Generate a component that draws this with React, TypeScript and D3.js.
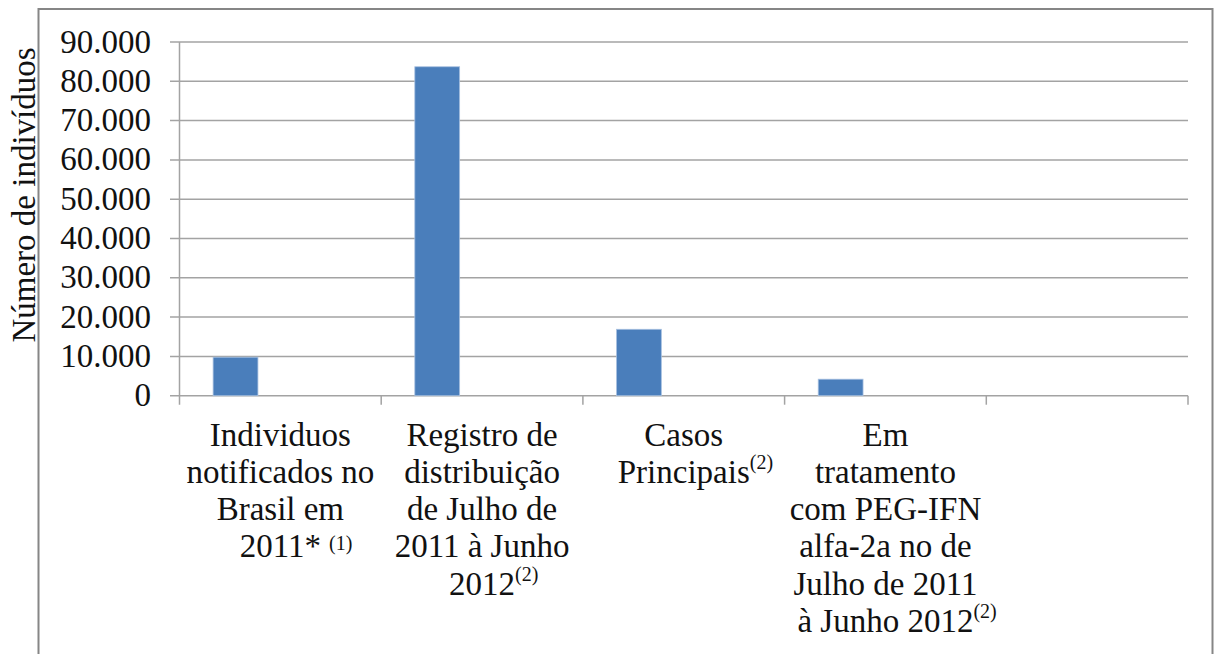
import { useEffect, useRef } from "react";
import * as d3 from "d3";

// Chart data
const categories = [
  "Individuos notificados no Brasil em 2011*",
  "Registro de distribuição de Julho de 2011 à Junho 2012",
  "Casos Principais",
  "Em tratamento com PEG-IFN alfa-2a no de Julho de 2011 à Junho 2012",
  "",
];
const categoryLines = [
  ["Individuos", "notificados no", "Brasil em", "2011*"],
  ["Registro de", "distribuição", "de Julho de", "2011 à Junho", "2012"],
  ["Casos", "Principais"],
  ["Em", "tratamento", "com PEG-IFN", "alfa-2a no de", "Julho de 2011", "à Junho 2012"],
  [],
];
const categoryNotes = [" (1)", "(2)", "(2)", "(2)", ""];
const series = ["Série 1", "Série 2", "Série 3"];
const values = [9800, 83700, 16900, 4200, null];
const yTicks = [0, 10000, 20000, 30000, 40000, 50000, 60000, 70000, 80000, 90000];
const yTitle = "Número de indivíduos";

const WIDTH = 1220;
const HEIGHT = 654;
const FONT = "'Liberation Serif', 'Times New Roman', serif";

export default function App() {
  const ref = useRef<SVGSVGElement>(null);

  useEffect(() => {
    const svg = d3.select(ref.current);
    svg.selectAll("*").remove();

    const PLOT = { left: 179.5, right: 1188, top: 42, bottom: 395.7 };

    const locale = d3.formatLocale({ decimal: ",", thousands: ".", grouping: [3], currency: ["", ""] });
    const fmt = locale.format(",d");

    const xScale = d3.scaleBand<string>().domain(categories).range([PLOT.left, PLOT.right]).padding(0);
    // Excel style clustered bars: 3 series, gap width 150%
    const xInner = d3
      .scaleBand<string>()
      .domain(series)
      .range([0, xScale.bandwidth()])
      .paddingInner(0)
      .paddingOuter(0.75);
    const yScale = d3.scaleLinear().domain([0, 90000]).range([PLOT.bottom, PLOT.top]);

    // background + outer frame
    svg.append("rect").attr("width", WIDTH).attr("height", HEIGHT).attr("fill", "white");
    svg
      .append("rect")
      .attr("x", 38.5)
      .attr("y", 9)
      .attr("width", 1174)
      .attr("height", 680)
      .attr("fill", "white")
      .attr("stroke", "#868686")
      .attr("stroke-width", 2);

    // gridlines
    svg
      .append("g")
      .selectAll("line")
      .data(yTicks)
      .join("line")
      .attr("x1", PLOT.left - 9.5)
      .attr("x2", PLOT.right)
      .attr("y1", (d) => yScale(d))
      .attr("y2", (d) => yScale(d))
      .attr("stroke", "#a3a3a3")
      .attr("stroke-width", 1.5);

    // y axis line
    svg
      .append("line")
      .attr("x1", PLOT.left)
      .attr("x2", PLOT.left)
      .attr("y1", PLOT.top)
      .attr("y2", PLOT.bottom + 9)
      .attr("stroke", "#a3a3a3")
      .attr("stroke-width", 1.5);

    // x ticks at category boundaries
    const bounds = categories.map((c) => xScale(c)!).concat([PLOT.right]);
    svg
      .append("g")
      .selectAll("line")
      .data(bounds.slice(1))
      .join("line")
      .attr("x1", (d) => d)
      .attr("x2", (d) => d)
      .attr("y1", PLOT.bottom)
      .attr("y2", PLOT.bottom + 9)
      .attr("stroke", "#a3a3a3")
      .attr("stroke-width", 1.5);

    // bars (only first series has values)
    svg
      .append("g")
      .selectAll("rect")
      .data(values.map((v, i) => ({ c: categories[i], v })).filter((d) => d.v !== null))
      .join("rect")
      .attr("x", (d) => xScale(d.c)! + xInner(series[0])!)
      .attr("y", (d) => yScale(d.v as number))
      .attr("width", xInner.bandwidth())
      .attr("height", (d) => PLOT.bottom - yScale(d.v as number))
      .attr("fill", "#4a7ebb")
      .attr("stroke", "#a7c0e0")
      .attr("stroke-width", 0.8);

    // y tick labels
    svg
      .append("g")
      .selectAll("text")
      .data(yTicks)
      .join("text")
      .text((d) => fmt(d))
      .attr("x", 151)
      .attr("y", (d) => yScale(d) + 10.5)
      .attr("text-anchor", "end")
      .attr("font-family", FONT)
      .attr("font-size", 33)
      .attr("fill", "#111");

    // y axis title
    svg
      .append("text")
      .text(yTitle)
      .attr("transform", `translate(35, 195) rotate(-90)`)
      .attr("text-anchor", "middle")
      .attr("font-family", FONT)
      .attr("font-size", 33)
      .attr("fill", "#111");

    // category labels, main text centred, superscript note appended
    const lineH = 37.3;
    categoryLines.forEach((lines, i) => {
      const cx = xScale(categories[i])! + xScale.bandwidth() / 2;
      lines.forEach((line, j) => {
        const y = 445.5 + j * lineH;
        const t = svg
          .append("text")
          .text(line)
          .attr("x", cx)
          .attr("y", y)
          .attr("text-anchor", "middle")
          .attr("font-family", FONT)
          .attr("font-size", 33)
          .attr("fill", "#111");
        if (j === lines.length - 1 && categoryNotes[i]) {
          const len = (t.node() as SVGTextElement).getComputedTextLength();
          const note = categoryNotes[i];
          svg
            .append("text")
            .text(note)
            .attr("x", cx + len / 2 + (note.startsWith(" ") ? 8 : 0))
            .attr("y", y - (note.startsWith(" ") ? 7 : 14))
            .attr("font-family", FONT)
            .attr("font-size", 20)
            .attr("fill", "#111");
        }
      });
    });
  }, []);

  return (
    <svg
      ref={ref}
      width={WIDTH}
      height={HEIGHT}
      style={{ position: "absolute", left: 0, top: 0 }}
    />
  );
}
